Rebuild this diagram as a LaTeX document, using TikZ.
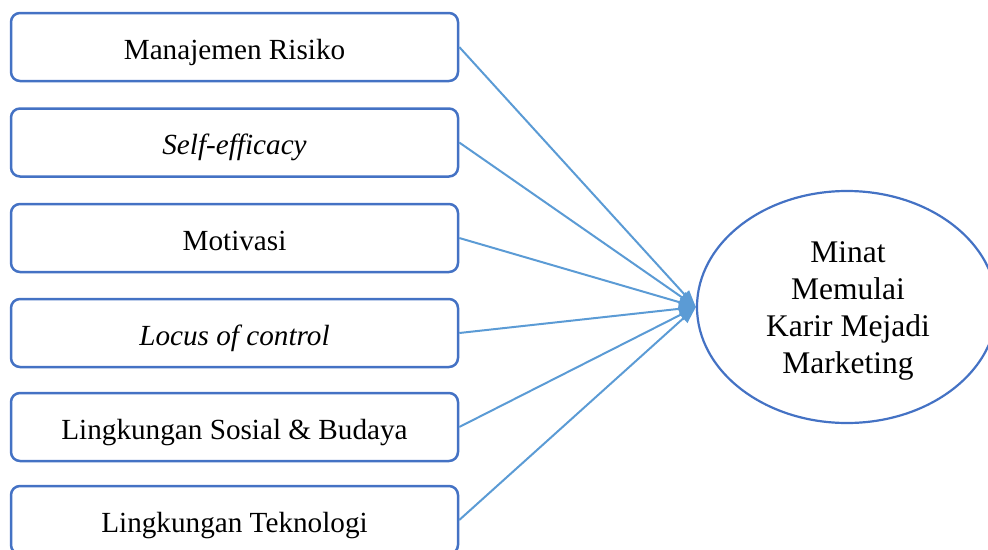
\documentclass[tikz,border=0pt]{standalone}
\usepackage{fontspec}
\setmainfont{Liberation Serif}
\usetikzlibrary{shapes.geometric,arrows.meta}
\definecolor{boxblue}{HTML}{4472C4}
\definecolor{lineblue}{HTML}{5B9BD5}
\begin{document}
\begin{tikzpicture}[x=1pt,y=-1pt,
  factor/.style={draw=boxblue,line width=2.5pt,rounded corners=9pt,
    minimum width=447pt,minimum height=68pt,inner sep=0pt,
    text height=24pt,text depth=0pt,
    font=\fontsize{29.2}{34}\selectfont},
  target/.style={ellipse,draw=boxblue,line width=2.2pt,
    minimum width=300pt,minimum height=232pt,inner sep=0pt},
  targettext/.style={align=center,inner sep=0pt,
    font=\fontsize{31.5}{37}\selectfont},
  link/.style={draw=lineblue,line width=2pt,
    -{Triangle[length=17pt,width=12pt]}}]
\useasboundingbox (0,0) rectangle (988,549);
\clip (0,0) rectangle (988,549);
\node[factor] (b1) at (234.5,47) {Manajemen Risiko};
\node[factor] (b2) at (234.5,142.5) {\textit{Self-efficacy}};
\node[factor] (b3) at (234.5,238) {Motivasi};
\node[factor] (b4) at (234.5,333) {\textit{Locus of control}};
\node[factor] (b5) at (234.5,427) {Lingkungan Sosial \& Budaya};
\node[factor] (b6) at (234.5,520) {Lingkungan Teknologi};
\node[target] (t) at (847,307) {};
\node[targettext] (tl) at (848,311) {Minat\\Memulai\\Karir Mejadi\\Marketing};
\foreach \b in {b1,b2,b3,b4,b5,b6}
  \draw[link] (\b.east) -- (t.west);
\end{tikzpicture}
\end{document}
